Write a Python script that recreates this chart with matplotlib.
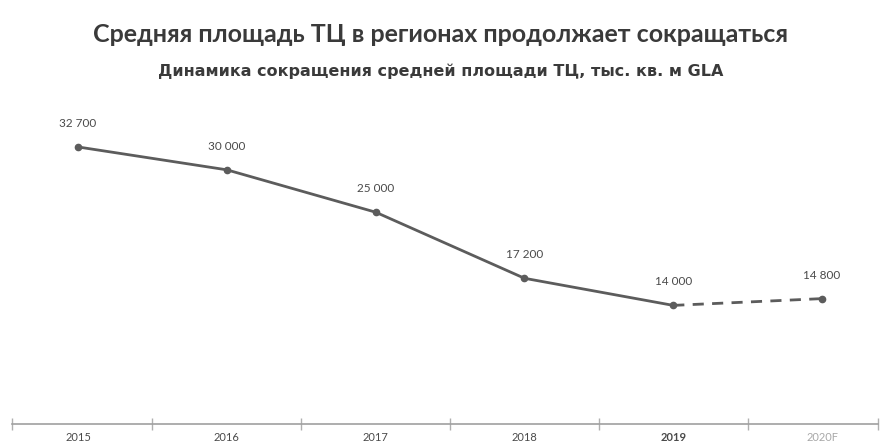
import numpy as np
import matplotlib.pyplot as plt

plt.rcParams['font.family'] = ['Lato', 'DejaVu Sans']

years = ['2015', '2016', '2017', '2018', '2019', '2020F']
avg_area = [32700, 30000, 25000, 17200, 14000, 14800]
labels = ['32 700', '30 000', '25 000', '17 200', '14 000', '14 800']
n_fact = 5  # last point is a forecast

line_color = '#5c5c5c'
text_color = '#4a4a4a'

fig = plt.figure(figsize=(8.81, 4.48), dpi=100)
ax = fig.add_axes([12 / 881, 24 / 448, 866 / 881, 305 / 448])

x = np.arange(len(years))
ax.plot(x[:n_fact], avg_area[:n_fact], color=line_color, lw=2, marker='o', ms=4.5)
ax.plot(x[n_fact - 1:], avg_area[n_fact - 1:], color=line_color, lw=2,
        ls=(0, (4, 3)), marker='o', ms=4.5, markevery=[1])

for xi, yi, lab in zip(x, avg_area, labels):
    ax.annotate(lab, (xi, yi), xytext=(0, 13), textcoords='offset points',
                ha='center', va='bottom', fontsize=8.5, color=text_color)

ax.set_xlim(-0.444, 5.376)
ax.set_ylim(0, 36000)

# category labels in the middle, short separators between them
ax.set_xticks(x)
ax.set_xticklabels(years, fontsize=8, color=text_color)
ax.tick_params(axis='x', which='major', length=0, pad=6)
ax.set_xticks(np.r_[-0.444, np.arange(0.5, 5), 5.376], minor=True)
ax.tick_params(axis='x', which='minor', length=9, width=1, color='#b0b0b0', direction='inout')
for i, t in enumerate(ax.get_xticklabels()):
    if years[i] == '2019':
        t.set_fontweight('bold')
    if years[i] == '2020F':
        t.set_color('#a8a8a8')

ax.set_yticks([])
for side in ('left', 'right', 'top'):
    ax.spines[side].set_visible(False)
ax.spines['bottom'].set_color('#a0a0a0')
ax.spines['bottom'].set_linewidth(1.2)

fig.text(0.5, 1 - 34 / 448, 'Средняя площадь ТЦ в регионах продолжает сокращаться',
         ha='center', va='center', fontsize=18, fontweight='bold', color='#3a3a3a')
fig.text(0.5, 1 - 71 / 448, 'Динамика сокращения средней площади ТЦ, тыс. кв. м GLA',
         ha='center', va='center', fontsize=11.5, fontweight='bold', color='#3a3a3a',
         family='DejaVu Sans')

fig.savefig('out.png', dpi=100, facecolor='white')
